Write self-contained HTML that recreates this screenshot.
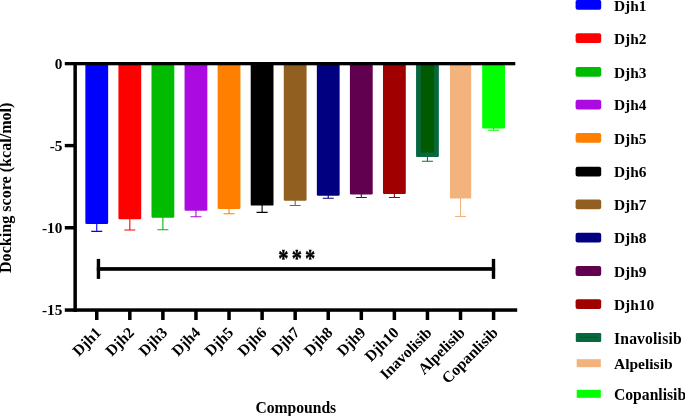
<!DOCTYPE html>
<html><head><meta charset="utf-8"><title>Docking score</title>
<style>
html,body{margin:0;padding:0;background:#fff;}
svg{display:block;font-family:"Liberation Serif",serif;font-weight:bold;}
</style></head><body>
<svg width="685" height="416" viewBox="0 0 685 416">
<rect width="685" height="416" fill="#fff"/>

<path d="M96.75 221.90V231.40M91.25 231.40H102.25" stroke="#0000FF" stroke-width="1.1" fill="none"/>
<rect x="85.35" y="63.6" width="22.8" height="160.30" fill="#0000FF" rx="1.2"/>
<path d="M129.82 217.30V230.00M124.32 230.00H135.32" stroke="#FF0000" stroke-width="1.1" fill="none"/>
<rect x="118.42" y="63.6" width="22.8" height="155.70" fill="#FF0000" rx="1.2"/>
<path d="M162.89 215.70V229.80M157.39 229.80H168.39" stroke="#00BB00" stroke-width="1.1" fill="none"/>
<rect x="151.49" y="63.6" width="22.8" height="154.10" fill="#00BB00" rx="1.2"/>
<path d="M195.96 208.70V216.70M190.46 216.70H201.46" stroke="#AB0AE0" stroke-width="1.1" fill="none"/>
<rect x="184.56" y="63.6" width="22.8" height="147.10" fill="#AB0AE0" rx="1.2"/>
<path d="M229.03 207.00V213.80M223.53 213.80H234.53" stroke="#FF8000" stroke-width="1.1" fill="none"/>
<rect x="217.63" y="63.6" width="22.8" height="145.40" fill="#FF8000" rx="1.2"/>
<path d="M262.10 203.60V212.40M256.60 212.40H267.60" stroke="#000000" stroke-width="1.1" fill="none"/>
<rect x="250.70" y="63.6" width="22.8" height="142.00" fill="#000000" rx="1.2"/>
<path d="M295.17 198.70V205.50M289.67 205.50H300.67" stroke="#916020" stroke-width="1.1" fill="none"/>
<rect x="283.77" y="63.6" width="22.8" height="137.10" fill="#916020" rx="1.2"/>
<path d="M328.24 193.70V198.20M322.74 198.20H333.74" stroke="#000080" stroke-width="1.1" fill="none"/>
<rect x="316.84" y="63.6" width="22.8" height="132.10" fill="#000080" rx="1.2"/>
<path d="M361.31 192.40V197.50M355.81 197.50H366.81" stroke="#620050" stroke-width="1.1" fill="none"/>
<rect x="349.91" y="63.6" width="22.8" height="130.80" fill="#620050" rx="1.2"/>
<path d="M394.38 191.90V197.50M388.88 197.50H399.88" stroke="#A00000" stroke-width="1.1" fill="none"/>
<rect x="382.98" y="63.6" width="22.8" height="130.30" fill="#A00000" rx="1.2"/>
<rect x="416.05" y="63.6" width="22.8" height="93.50" fill="#07683F" rx="1"/>
<rect x="420.80" y="63.6" width="13.30" height="89.00" fill="#005A00"/>
<path d="M427.45 152.10V161.20M421.95 161.20H432.95" stroke="#1A6B2A" stroke-width="1.1" fill="none"/>
<path d="M460.52 196.50V216.50M455.02 216.50H466.02" stroke="#F2B47C" stroke-width="1.1" fill="none"/>
<rect x="449.95" y="63.6" width="21.25" height="134.90" fill="#F2B47C"/>
<path d="M493.59 126.40V130.20M488.09 130.20H499.09" stroke="#00FF00" stroke-width="1.1" fill="none"/>
<rect x="482.19" y="63.6" width="22.8" height="64.80" fill="#00FF00" rx="1.2"/>
<g fill="#000">
<rect x="64.8" y="62" width="450.5" height="3.3"/>
<rect x="73.4" y="62" width="3.5" height="250"/>
<rect x="64.8" y="308.3" width="452.4" height="3.5"/>
<rect x="64.8" y="143.9" width="10" height="3.4"/>
<rect x="64.8" y="226" width="10" height="3.5"/>
<rect x="95.00" y="310" width="3.5" height="10"/>
<rect x="128.07" y="310" width="3.5" height="10"/>
<rect x="161.14" y="310" width="3.5" height="10"/>
<rect x="194.21" y="310" width="3.5" height="10"/>
<rect x="227.28" y="310" width="3.5" height="10"/>
<rect x="260.35" y="310" width="3.5" height="10"/>
<rect x="293.42" y="310" width="3.5" height="10"/>
<rect x="326.49" y="310" width="3.5" height="10"/>
<rect x="359.56" y="310" width="3.5" height="10"/>
<rect x="392.63" y="310" width="3.5" height="10"/>
<rect x="425.70" y="310" width="3.5" height="10"/>
<rect x="458.77" y="310" width="3.5" height="10"/>
<rect x="491.84" y="310" width="3.5" height="10"/>
<rect x="96.8" y="267.1" width="398.3" height="3.7"/>
<rect x="96.75" y="258.9" width="3.4" height="20"/>
<rect x="491.8" y="258.9" width="3.4" height="20"/>
</g>
<g font-size="15.3px" text-anchor="end" fill="#000">
<text x="62.4" y="68.9">0</text>
<text x="62.4" y="151">-5</text>
<text x="62.4" y="233">-10</text>
<text x="62.4" y="315">-15</text>
</g>
<text transform="translate(278.2,267.0) scale(0.84,1)" font-size="24.4px" letter-spacing="3.8" stroke="#000" stroke-width="0.4">***</text>
<g font-size="15.6px" text-anchor="end" fill="#000">
<text transform="translate(102.05,333.6) rotate(-45)">Djh1</text>
<text transform="translate(135.12,333.6) rotate(-45)">Djh2</text>
<text transform="translate(168.19,333.6) rotate(-45)">Djh3</text>
<text transform="translate(201.26,333.6) rotate(-45)">Djh4</text>
<text transform="translate(234.33,333.6) rotate(-45)">Djh5</text>
<text transform="translate(267.40,333.6) rotate(-45)">Djh6</text>
<text transform="translate(300.47,333.6) rotate(-45)">Djh7</text>
<text transform="translate(333.54,333.6) rotate(-45)">Djh8</text>
<text transform="translate(366.61,333.6) rotate(-45)">Djh9</text>
<text transform="translate(399.68,333.6) rotate(-45)">Djh10</text>
<text transform="translate(432.75,333.6) rotate(-45)">Inavolisib</text>
<text transform="translate(465.82,333.6) rotate(-45)">Alpelisib</text>
<text transform="translate(498.89,333.6) rotate(-45)">Copanlisib</text>
</g>
<text transform="translate(11.1,273) rotate(-90)" font-size="16.1px">Docking score (kcal/mol)</text>
<text transform="translate(255.4,412.7) scale(0.965,1)" font-size="16.2px">Compounds</text>
<rect x="575.6" y="-0.1" width="25.6" height="9.8" rx="2" fill="#0000FF"/>
<text x="614.0" y="10.5" font-size="15.40px">Djh1</text>
<rect x="575.6" y="33.3" width="25.6" height="9.8" rx="2" fill="#FF0000"/>
<text x="614.0" y="43.9" font-size="15.40px">Djh2</text>
<rect x="575.6" y="66.9" width="25.6" height="9.8" rx="2" fill="#00BB00"/>
<text x="614.0" y="77.5" font-size="15.40px">Djh3</text>
<rect x="575.6" y="99.8" width="25.6" height="9.8" rx="2" fill="#AB0AE0"/>
<text x="614.0" y="110.4" font-size="15.40px">Djh4</text>
<rect x="575.6" y="133.0" width="25.6" height="9.8" rx="2" fill="#FF8000"/>
<text x="614.0" y="143.6" font-size="15.40px">Djh5</text>
<rect x="575.6" y="166.7" width="25.6" height="9.8" rx="2" fill="#000000"/>
<text x="614.0" y="177.3" font-size="15.40px">Djh6</text>
<rect x="575.6" y="199.5" width="25.6" height="9.8" rx="2" fill="#916020"/>
<text x="614.0" y="210.1" font-size="15.40px">Djh7</text>
<rect x="575.6" y="232.8" width="25.6" height="9.8" rx="2" fill="#000080"/>
<text x="614.0" y="243.4" font-size="15.40px">Djh8</text>
<rect x="575.6" y="266.1" width="25.6" height="9.8" rx="2" fill="#620050"/>
<text x="614.0" y="276.7" font-size="15.40px">Djh9</text>
<rect x="575.6" y="299.3" width="25.6" height="9.8" rx="2" fill="#A00000"/>
<text x="614.0" y="309.9" font-size="15.40px">Djh10</text>
<rect x="575.8" y="333.0" width="25.4" height="8.9" rx="1.2" fill="#07683F"/>
<rect x="579" y="336.9" width="19" height="1" fill="#005A00" opacity="0.8"/>
<text x="614.0" y="343.7" font-size="15.65px" letter-spacing="0.17">Inavolisib</text>
<rect x="576.7" y="359.2" width="24.1" height="8.0" fill="#F2B47C"/>
<text x="614.0" y="369.1" font-size="15.50px">Alpelisib</text>
<rect x="576.7" y="389.8" width="24.1" height="8.0" fill="#00FF00"/>
<text x="614.0" y="399.7" font-size="15.65px">Copanlisib</text>
</svg></body></html>
